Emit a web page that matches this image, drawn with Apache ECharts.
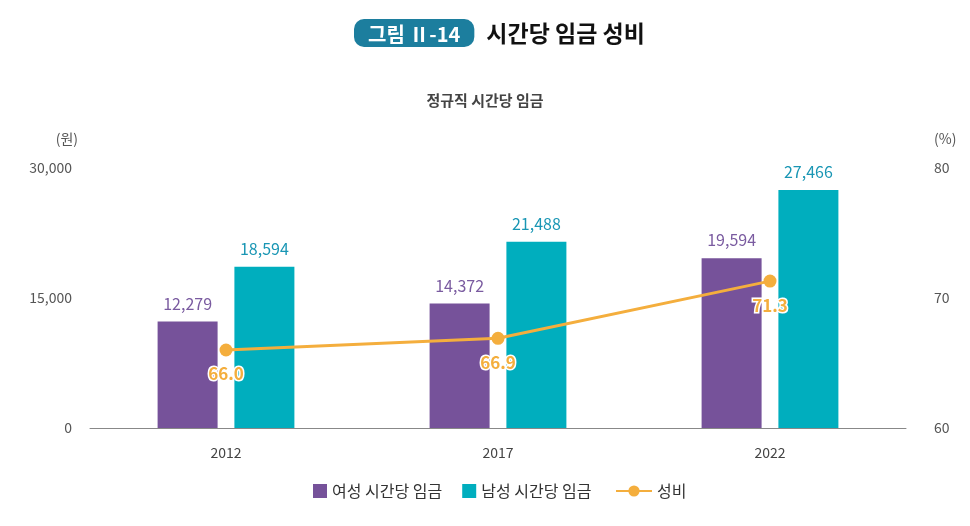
<!DOCTYPE html>
<html><head><meta charset="utf-8">
<script src="https://cdn.jsdelivr.net/npm/echarts@6/dist/echarts.min.js"></script>
<style>html,body{margin:0;padding:0;background:#fff}#c{width:970px;height:526px}</style>
</head><body><div id="c"></div>
<script>
const categories = ['2012', '2017', '2022'];
const femaleWage = [12279, 14372, 19594];
const maleWage = [18594, 21488, 27466];
const ratio = [66.0, 66.9, 71.3];
const leftTicks = [0, 15000, 30000];
const rightTicks = [60, 70, 80];

const font = '"Noto Sans CJK KR", "Noto Sans", sans-serif';
const chart = echarts.init(document.getElementById('c'));
chart.setOption({
  animation: false,
  textStyle: { fontFamily: font },
  title: [{
    text: '{badge|그림 Ⅱ-14}{gap| }{main|시간당 임금 성비}',
    left: 349, top: 14,
    textStyle: {
      rich: {
        badge: { backgroundColor: '#1C7E9E', color: '#fff', fontSize: 20, fontWeight: 'bold', borderRadius: 10, padding: [5, 14, 3, 14], fontFamily: font },
        gap: { width: 12, fontSize: 12 },
        main: { color: '#111', fontSize: 23, fontWeight: 'bold', fontFamily: font }
      }
    }
  }, {
    text: '정규직 시간당 임금', left: 'center', top: 88,
    textStyle: { color: '#444', fontSize: 15, fontWeight: 'bold', fontFamily: font }
  }],
  legend: [{
    top: 478, left: 308, itemGap: 20, itemWidth: 14, itemHeight: 14,
    textStyle: { color: '#333', fontSize: 16, fontFamily: font },
    data: [
      { name: '여성 시간당 임금', icon: 'rect' },
      { name: '남성 시간당 임금', icon: 'rect' }
    ]
  }, {
    top: 478, left: 610, itemWidth: 36, itemHeight: 14,
    textStyle: { color: '#333', fontSize: 16, fontFamily: font },
    data: [{ name: '성비' }]
  }],
  grid: { left: 90, right: 64, top: 168, bottom: 98 },
  xAxis: {
    type: 'category', data: categories,
    axisLine: { lineStyle: { color: '#888', width: 1 } },
    axisTick: { show: false },
    axisLabel: { color: '#444', fontSize: 14, margin: 18, fontFamily: font }
  },
  yAxis: [{
    type: 'value', min: 0, max: 30000, interval: 15000,
    name: '(원)', nameLocation: 'end', nameGap: 22,
    nameTextStyle: { color: '#555', fontSize: 14, align: 'right', padding: [0, 12, 0, 0] },
    splitLine: { show: false }, axisLine: { show: false }, axisTick: { show: false },
    axisLabel: { color: '#555', fontSize: 14, margin: 18,
      formatter: v => leftTicks.includes(v) ? v.toLocaleString('en-US') : '' }
  }, {
    type: 'value', min: 60, max: 80, interval: 10,
    name: '(%)', nameLocation: 'end', nameGap: 22,
    nameTextStyle: { color: '#555', fontSize: 14, align: 'left', padding: [0, 0, 0, 28] },
    splitLine: { show: false }, axisLine: { show: false }, axisTick: { show: false },
    axisLabel: { color: '#555', fontSize: 14, margin: 28,
      formatter: v => rightTicks.includes(v) ? String(v) : '' }
  }],
  series: [{
    name: '여성 시간당 임금', type: 'bar', data: femaleWage,
    barWidth: 60, barGap: '28%', itemStyle: { color: '#76529A' },
    label: { show: true, position: 'top', distance: 10, color: '#7A5BA0', fontSize: 16,
      formatter: p => p.value.toLocaleString('en-US') }
  }, {
    name: '남성 시간당 임금', type: 'bar', data: maleWage,
    barWidth: 60, itemStyle: { color: '#00AEBE' },
    label: { show: true, position: 'top', distance: 10, color: '#1996B4', fontSize: 16,
      formatter: p => p.value.toLocaleString('en-US') }
  }, {
    name: '성비', type: 'line', yAxisIndex: 1, data: ratio,
    symbol: 'circle', symbolSize: 13,
    lineStyle: { color: '#F4AE3D', width: 3 }, itemStyle: { color: '#F4AE3D' },
    label: { show: true, position: 'bottom', distance: 9, color: '#F4AE3D', fontSize: 17, fontWeight: 'bold',
      textBorderColor: '#fff', textBorderWidth: 3,
      formatter: p => p.value.toFixed(1) },
    z: 5
  }]
});
</script></body></html>
